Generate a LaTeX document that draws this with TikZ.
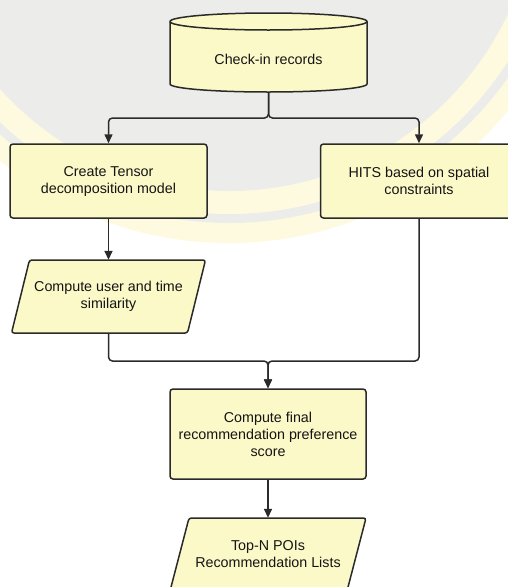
\documentclass[tikz,border=0pt]{standalone}
\usepackage{fontspec}
\setmainfont{Liberation Sans}
\usetikzlibrary{arrows.meta,calc}
\definecolor{boxfill}{HTML}{FBF9C8}
\definecolor{edgecol}{HTML}{2A2A2A}
\definecolor{wmgrey}{HTML}{ECEDEB}
\definecolor{wmyellow}{HTML}{FEFADF}
\definecolor{txtcol}{HTML}{141414}
\begin{document}
\begin{tikzpicture}[x=1pt,y=-1pt,
  lbl/.style={font=\fontsize{14.3}{17}\selectfont, text=txtcol, align=center, inner sep=0pt},
  procbox/.style={lbl, draw=edgecol, fill=boxfill, line width=1.5pt, rounded corners=3pt, minimum width=197pt, minimum height=74pt},
  shapeline/.style={draw=edgecol, fill=boxfill, line width=1.5pt, rounded corners=2.5pt},
  conn/.style={draw=edgecol, line width=1.5pt, rounded corners=4pt},
  arr/.style={conn, -{Triangle[width=8pt,length=9pt]}}
]
\useasboundingbox (0,0) rectangle (508,587);
\clip (0,0) rectangle (508,587);
% background with faint seal
\fill[white] (0,0) rectangle (508,587);
\fill[wmyellow] (229,-117) circle[radius=360];
\fill[wmgrey] (229,-117) circle[radius=340];
\fill[wmyellow] (229,-117) circle[radius=331];
\fill[wmgrey] (229,-117) circle[radius=308];

% cylinder
\path[shapeline, rounded corners=0pt] (170,21.5) -- (170,84)
  arc[start angle=180, end angle=0, x radius=98.5, y radius=8]
  -- (367,21.5)
  arc[start angle=0, end angle=-180, x radius=98.5, y radius=8.5] -- cycle;
\draw[draw=edgecol, line width=1.5pt] (170,21.5)
  arc[start angle=180, end angle=0, x radius=98.5, y radius=8.5];
\node[lbl] (db) at (268.5,59) {Check-in records};
\coordinate (dbbot) at (268.5,92);

% parallelograms
\path[shapeline] (29.5,260) -- (205.5,260) -- (187.5,333) -- (11.5,333) -- cycle;
\path[shapeline] (189,518) -- (366,518) -- (347,591) -- (170,591) -- cycle;

% nodes
\node[procbox] (tensor) at (108.5,181) {Create Tensor\\decomposition model};
\node[procbox] (hits) at (419,181) {HITS based on spatial\\constraints};
\node[lbl, minimum width=176pt, minimum height=73pt] (sim) at (108.5,296.5) {Compute user and time\\similarity};
\node[procbox, minimum width=196pt, minimum height=90pt] (final) at (268,434) {Compute final\\recommendation preference\\score};
\node[lbl, minimum width=177pt, minimum height=73pt] (topn) at (268,554.5) {Top-N POIs\\Recommendation Lists};

% connectors
\coordinate (j1) at (268.5,118);
\coordinate (j2) at (268,361);
\draw[arr] (dbbot) -- (j1) -| (tensor.north);
\draw[arr] (dbbot) -- (j1) -| (hits.north);
\draw[arr] (tensor.south) -- (sim.north);
\draw[arr] (sim.south) |- (j2) -- (final.north);
\draw[arr] (hits.south) |- (j2) -- (final.north);
\draw[arr] (final.south) -- (topn.north);
\end{tikzpicture}
\end{document}
